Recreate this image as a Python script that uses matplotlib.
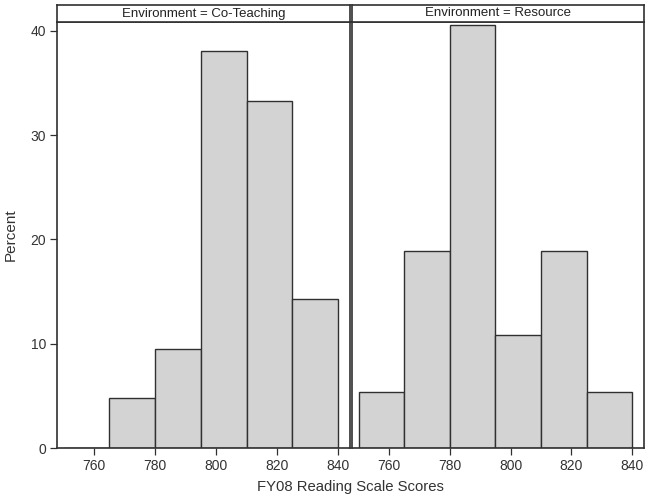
import matplotlib
matplotlib.use("Agg")
import matplotlib.pyplot as plt

# histogram bins (FY08 reading scale scores), percent per bin
bin_edges = [750, 765, 780, 795, 810, 825, 840]
panels = ["Co-Teaching", "Resource"]
pct_coteach = [0.0, 4.76, 9.52, 38.10, 33.33, 14.29]
pct_resource = [5.41, 18.92, 40.54, 10.81, 18.92, 5.41]
x_ticks = [760, 780, 800, 820, 840]
y_ticks = [0, 10, 20, 30, 40]

plt.rcParams["font.family"] = ["Liberation Sans", "DejaVu Sans"]
W, H = 650, 504
fig = plt.figure(figsize=(W / 100, H / 100), dpi=100)

def px(x0, y0, x1, y1):
    # pixel box (top-left origin) -> figure fraction rect
    return [x0 / W, 1 - y1 / H, (x1 - x0) / W, (y1 - y0) / H]

edge = "#303030"
boxes = [(57, 350), (352, 644)]
series = [pct_coteach, pct_resource]
for i, (name, vals) in enumerate(zip(panels, series)):
    x0, x1 = boxes[i]
    ax = fig.add_axes(px(x0, 22, x1, 448))
    widths = [bin_edges[k + 1] - bin_edges[k] for k in range(len(vals))]
    ax.bar(bin_edges[:-1], vals, width=widths, align="edge",
           color="#d3d3d3", edgecolor=edge, linewidth=1.0)
    ax.set_xlim(747.8, 843.9)
    ax.set_ylim(0, 40.86)
    ax.set_xticks(x_ticks)
    ax.set_yticks(y_ticks)
    for s in ax.spines.values():
        s.set_color(edge)
        s.set_linewidth(1.2)
    ax.tick_params(direction="out", length=5, width=0.9, color=edge,
                   labelsize=10, labelcolor="#333333", pad=3)
    if i == 1:
        ax.tick_params(axis="y", left=False, labelleft=False)
    else:
        ax.set_ylabel("Percent", fontsize=11, color="#333333", labelpad=9)

    hx = fig.add_axes(px(x0, 5, x1, 22))
    hx.set_xticks([]); hx.set_yticks([])
    for s in hx.spines.values():
        s.set_color(edge)
        s.set_linewidth(1.2)
    hx.text(0.5, 0.5, "Environment = " + name, ha="center", va="center",
            fontsize=9.5, color="#222222", transform=hx.transAxes)

fig.text(350 / W, 1 - 487 / H, "FY08 Reading Scale Scores", ha="center",
         va="center", fontsize=10.7, color="#333333")

fig.savefig("out.png", dpi=100)
